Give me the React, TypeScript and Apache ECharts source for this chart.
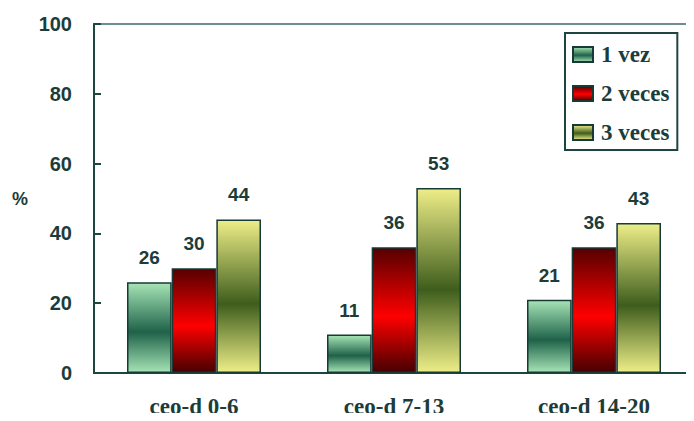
import React, { useEffect, useRef } from "react";
import * as echarts from "echarts";

const categories = ["ceo-d 0-6", "ceo-d 7-13", "ceo-d 14-20"];
const seriesNames = ["1 vez", "2 veces", "3 veces"];
const vez1 = [26, 11, 21];
const veces2 = [30, 36, 36];
const veces3 = [44, 53, 43];
const yTicks = { min: 0, max: 100, interval: 20 };

const TEXT = "#1c3c3a";
const AXIS = "#1d4642";

const grad = (edge: string, mid: string) =>
  new echarts.graphic.LinearGradient(0, 0, 0, 1, [
    { offset: 0, color: edge },
    { offset: 0.55, color: mid },
    { offset: 1, color: edge },
  ]);

export default function App() {
  const ref = useRef<HTMLDivElement>(null);
  useEffect(() => {
    if (!ref.current) return;
    const chart = echarts.init(ref.current, null, { renderer: "svg" });
    const label = {
      show: true,
      position: "top",
      distance: 15,
      color: TEXT,
      fontFamily: "Liberation Sans",
      fontWeight: "bold",
      fontSize: 19,
    };
    const styles = [
      grad("#a6e4b6", "#1f6249"),
      new echarts.graphic.LinearGradient(0, 0, 0, 1, [
        { offset: 0, color: "#560000" },
        { offset: 0.55, color: "#ff0000" },
        { offset: 1, color: "#460000" },
      ]),
      grad("#eeee88", "#3e5d1c"),
    ];
    const datas = [vez1, veces2, veces3];
    chart.setOption({
      animation: false,
      backgroundColor: "#ffffff",
      grid: {
        left: 94,
        top: 24,
        width: 609,
        height: 349,
        show: true,
        borderColor: "#6f8f8c",
        borderWidth: 2,
        backgroundColor: "transparent",
      },
      legend: {
        orient: "vertical",
        left: 565,
        top: 33,
        data: seriesNames,
        padding: [10, 8, 6, 7],
        borderColor: AXIS,
        borderWidth: 2,
        itemWidth: 20,
        itemHeight: 15,
        itemGap: 16,
        icon: "rect",
        textStyle: {
          color: TEXT,
          fontFamily: "Liberation Serif",
          fontWeight: "bold",
          fontSize: 23,
          lineHeight: 22,
          padding: [0, 0, 0, 3],
        },
      },
      xAxis: {
        type: "category",
        data: categories,
        axisLine: { lineStyle: { color: AXIS, width: 2 } },
        axisTick: { inside: true, length: 6, lineStyle: { color: AXIS, width: 2 } },
        axisLabel: {
          color: TEXT,
          fontFamily: "Liberation Serif",
          fontWeight: "bold",
          fontSize: 23,
          margin: 22,
        },
      },
      yAxis: {
        type: "value",
        min: yTicks.min,
        max: yTicks.max,
        interval: yTicks.interval,
        name: "%",
        nameLocation: "middle",
        nameRotate: 0,
        nameGap: 66,
        nameTextStyle: {
          color: TEXT,
          fontFamily: "Liberation Sans",
          fontWeight: "bold",
          fontSize: 18,
        },
        splitLine: { show: false },
        axisLine: { show: true, lineStyle: { color: AXIS, width: 2 } },
        axisTick: { show: true, inside: true, length: 7, lineStyle: { color: AXIS, width: 2 } },
        axisLabel: {
          color: TEXT,
          fontFamily: "Liberation Sans",
          fontWeight: "bold",
          fontSize: 20,
          margin: 22,
        },
      },
      series: seriesNames.map((name, i) => ({
        name,
        type: "bar",
        data: datas[i],
        barGap: "0%",
        barCategoryGap: "33%",
        label,
        itemStyle: { color: styles[i], borderColor: "#173a36", borderWidth: 1.5 },
      })),
    });
    return () => chart.dispose();
  }, []);
  return <div ref={ref} style={{ width: 694, height: 421, margin: -8 }} />;
}
